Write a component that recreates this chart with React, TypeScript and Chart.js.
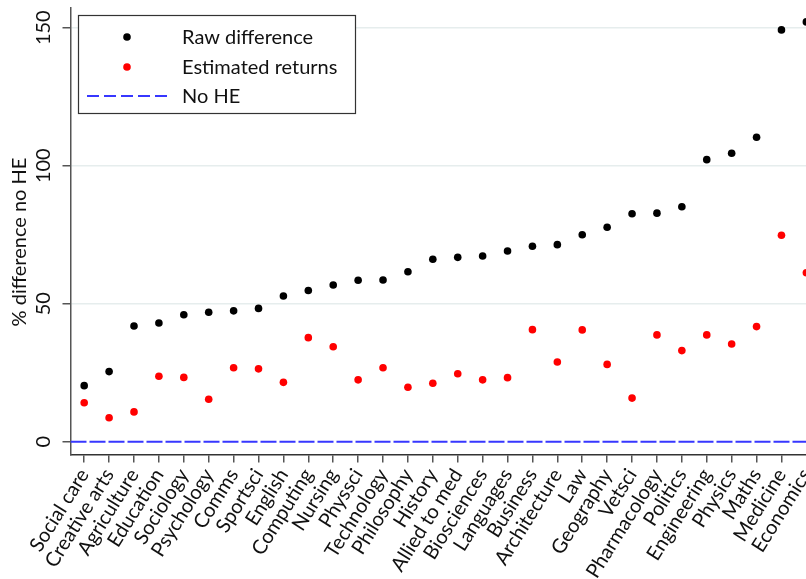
import React, { useEffect, useRef } from 'react';
import { Chart, registerables } from 'chart.js';

Chart.register(...registerables);

const categories = [
  'Social care', 'Creative arts', 'Agriculture', 'Education', 'Sociology', 'Psychology',
  'Comms', 'Sportsci', 'English', 'Computing', 'Nursing', 'Physsci', 'Technology',
  'Philosophy', 'History', 'Allied to med', 'Biosciences', 'Languages', 'Business',
  'Architecture', 'Law', 'Geography', 'Vetsci', 'Pharmacology', 'Politics',
  'Engineering', 'Physics', 'Maths', 'Medicine', 'Economics',
];

const rawDifference = [
  20.3, 25.4, 41.9, 43.0, 46.0, 46.9, 47.4, 48.3, 52.8, 54.8, 56.8, 58.5, 58.6,
  61.6, 66.1, 66.8, 67.3, 69.1, 70.8, 71.4, 75.0, 77.7, 82.6, 82.8, 85.1,
  102.2, 104.5, 110.3, 149.2, 152.1,
];

const estimatedReturns = [
  14.1, 8.7, 10.8, 23.7, 23.3, 15.4, 26.8, 26.4, 21.5, 37.7, 34.4, 22.4, 26.8,
  19.7, 21.2, 24.6, 22.4, 23.2, 40.6, 28.9, 40.5, 28.0, 15.8, 38.7, 33.0,
  38.7, 35.4, 41.7, 74.8, 61.2,
];

const noHEValue = 0;
const yTicks = [0, 50, 100, 150];
const yTitle = '% difference no HE';
const seriesLabels = ['Raw difference', 'Estimated returns', 'No HE'];

const FONT_FAMILY = 'Lato, "Open Sans", sans-serif';
const FONT_SIZE = 20;
const X_MIN = -0.55;
const X_MAX = 30.19;
const Y_MIN = -4.64;
const Y_MAX = 157.14;
const BLUE = 'rgb(55,55,255)';

const customPlugin = {
  id: 'customDecor',
  afterDraw(chart: any) {
    const ctx = chart.ctx;
    ctx.save();
    // y axis title
    ctx.translate(20, 242);
    ctx.rotate(-Math.PI / 2);
    ctx.font = `${FONT_SIZE}px ${FONT_FAMILY}`;
    ctx.fillStyle = '#111';
    ctx.textAlign = 'center';
    ctx.textBaseline = 'middle';
    ctx.fillText(yTitle, 0, 0);
    ctx.restore();

    // legend box
    ctx.save();
    const bx = 78.5, by = 15.5, bw = 277, bh = 98;
    ctx.fillStyle = '#fff';
    ctx.fillRect(bx, by, bw, bh);
    ctx.strokeStyle = '#333';
    ctx.lineWidth = 1.2;
    ctx.strokeRect(bx, by, bw, bh);
    const rows = [37, 67, 96];
    const ds = chart.data.datasets;
    ctx.font = `${FONT_SIZE}px ${FONT_FAMILY}`;
    ctx.textAlign = 'left';
    ctx.textBaseline = 'middle';
    for (let i = 0; i < 3; i++) {
      const y = rows[i];
      const d = ds[i];
      if (i < 2) {
        ctx.beginPath();
        ctx.fillStyle = d.backgroundColor;
        ctx.arc(127, y, 3.8, 0, Math.PI * 2);
        ctx.fill();
      } else {
        ctx.beginPath();
        ctx.strokeStyle = d.borderColor;
        ctx.lineWidth = 2;
        ctx.setLineDash([12, 5]);
        ctx.moveTo(87, y);
        ctx.lineTo(170, y);
        ctx.stroke();
        ctx.setLineDash([]);
      }
      ctx.fillStyle = '#111';
      ctx.fillText(d.label, 182, y + 1);
    }
    ctx.restore();
  },
};

export default function App() {
  const canvasRef = useRef<HTMLCanvasElement | null>(null);

  useEffect(() => {
    if (!canvasRef.current) return;
    const font = { family: FONT_FAMILY, size: FONT_SIZE };
    const chart = new Chart(canvasRef.current, {
      type: 'scatter',
      data: {
        datasets: [
          {
            label: seriesLabels[0],
            data: rawDifference.map((v, i) => ({ x: i, y: v })),
            backgroundColor: '#000',
            borderWidth: 0,
            pointRadius: 3.8,
            showLine: false,
          },
          {
            label: seriesLabels[1],
            data: estimatedReturns.map((v, i) => ({ x: i, y: v })),
            backgroundColor: '#ff0000',
            borderWidth: 0,
            pointRadius: 3.8,
            showLine: false,
          },
          {
            label: seriesLabels[2],
            data: [{ x: X_MIN, y: noHEValue }, { x: X_MAX, y: noHEValue }],
            borderColor: BLUE,
            backgroundColor: BLUE,
            borderWidth: 2,
            borderDash: [16, 3],
            pointRadius: 0,
            showLine: true,
          },
        ],
      },
      options: {
        animation: false,
        responsive: true,
        maintainAspectRatio: false,
        layout: { padding: { top: 8, left: 0, right: 0, bottom: 0 } },
        plugins: { legend: { display: false }, tooltip: { enabled: false } },
        scales: {
          x: {
            type: 'linear',
            min: X_MIN,
            max: X_MAX,
            afterBuildTicks: (s: any) => {
              s.ticks = categories.map((_, i) => ({ value: i }));
            },
            afterFit: (s: any) => {
              s.height = 579 - 454.5;
            },
            ticks: {
              autoSkip: false,
              minRotation: 58,
              maxRotation: 58,
              padding: 2,
              font,
              color: '#111',
              callback: (v: any) => categories[v],
            },
            grid: {
              drawOnChartArea: false,
              drawTicks: true,
              tickLength: 8,
              tickColor: '#555',
              lineWidth: 1.5,
            },
            border: { display: true, color: '#333', width: 1.5 },
          },
          y: {
            min: Y_MIN,
            max: Y_MAX,
            afterBuildTicks: (s: any) => {
              s.ticks = yTicks.map((v) => ({ value: v }));
            },
            afterFit: (s: any) => {
              s.width = 70.5;
              s.paddingTop = 0;
              s.paddingBottom = 0;
            },
            ticks: {
              minRotation: 90,
              maxRotation: 90,
              crossAlign: 'center',
              padding: 2,
              font,
              color: '#111',
            },
            grid: {
              color: (c: any) => (c.tick && c.tick.value === 0 ? 'rgba(0,0,0,0)' : '#e6eded'),
              lineWidth: 1.5,
              drawTicks: true,
              tickLength: 8,
              tickColor: '#555',
            },
            border: { display: true, color: '#555', width: 1.5 },
          },
        },
      },
      plugins: [customPlugin],
    } as any);
    return () => chart.destroy();
  }, []);

  return (
    <div style={{ position: 'fixed', left: 0, top: 0, width: 806, height: 579, overflow: 'hidden', background: '#fff' }}>
      <div style={{ position: 'absolute', left: 0, top: 0, width: 840, height: 579 }}>
        <canvas ref={canvasRef} />
      </div>
    </div>
  );
}
